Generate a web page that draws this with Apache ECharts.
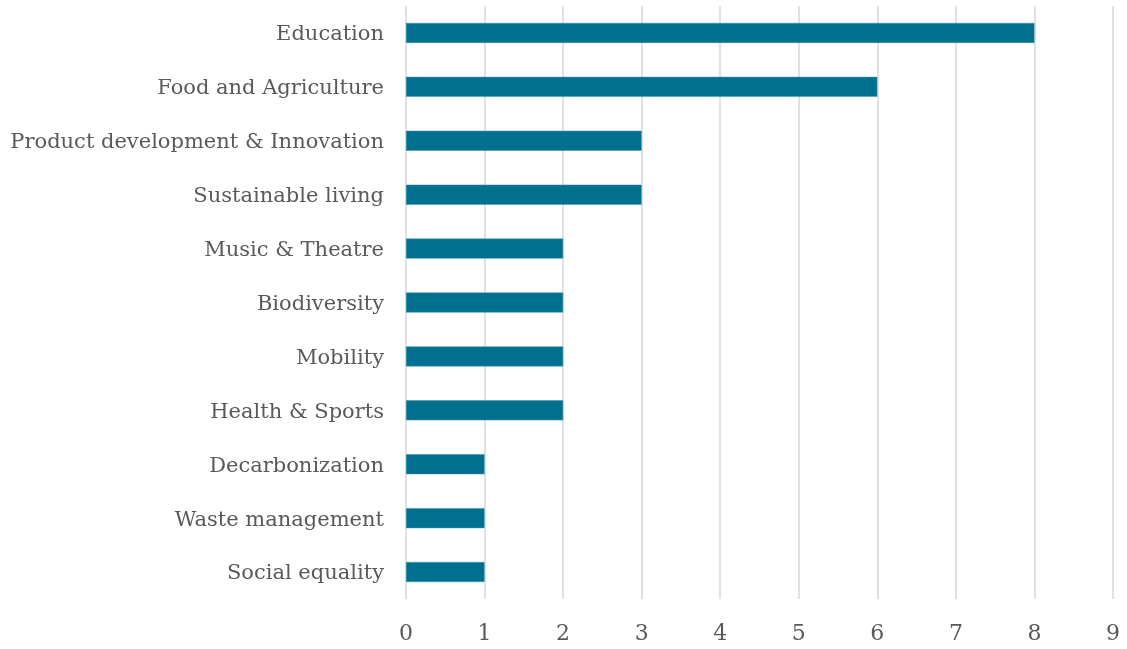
<!DOCTYPE html>
<html>
<head>
<meta charset="utf-8">
<script src="https://cdn.jsdelivr.net/npm/echarts@6/dist/echarts.min.js"></script>
<style>html,body{margin:0;padding:0;background:#fff}#c{width:1127px;height:649px}</style>
</head>
<body>
<div id="c"></div>
<script>
const categories = ["Education","Food and Agriculture","Product development & Innovation","Sustainable living","Music & Theatre","Biodiversity","Mobility","Health & Sports","Decarbonization","Waste management","Social equality"];
const values = [8,6,3,3,2,2,2,2,1,1,1];
const xTicks = [0,1,2,3,4,5,6,7,8,9];

const FONT = "DejaVu Serif";
const chart = echarts.init(document.getElementById('c'), null, {renderer:'canvas'});
chart.setOption({
  animation:false,
  grid:{left:406, right:14, top:6, bottom:50, containLabel:false},
  xAxis:{
    type:'value', min:xTicks[0], max:xTicks[xTicks.length-1], interval:1,
    axisLine:{show:false}, axisTick:{show:false},
    splitLine:{show:true, lineStyle:{color:'#dadada', width:1.6}},
    axisLabel:{color:'#595959', fontFamily:FONT, fontSize:22, margin:24}
  },
  yAxis:{
    type:'category', data:categories, inverse:true,
    axisLine:{show:false}, axisTick:{show:false},
    axisLabel:{
      margin:22,
      formatter: v => '{a|' + v + '}',
      rich:{a:{color:'#595959', fontFamily:FONT, fontSize:21, padding:[4,0,0,0]}}
    }
  },
  series:[{
    type:'bar', data:values, barWidth:20,
    itemStyle:{color:'#00708f', borderColor:'#3a93ab', borderWidth:0.5}
  }]
});
</script>
</body>
</html>
